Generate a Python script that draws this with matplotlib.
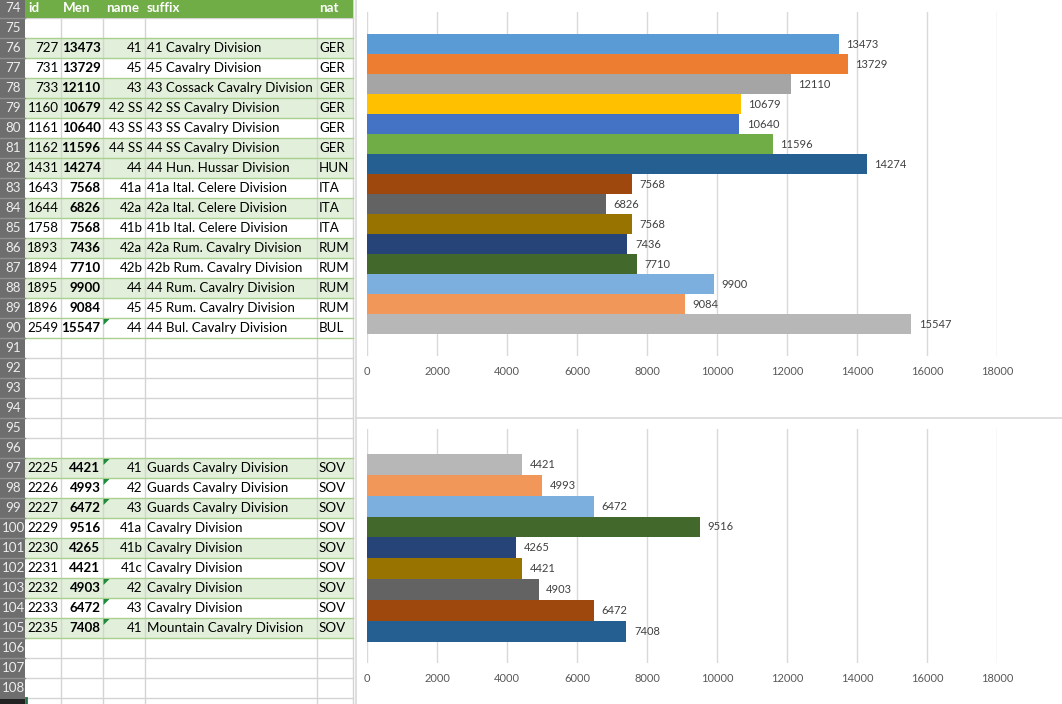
import matplotlib
matplotlib.use("Agg")
import matplotlib.pyplot as plt
from matplotlib.patches import Rectangle, Polygon

# ---------------- data ----------------
ids1 = [727, 731, 733, 1160, 1161, 1162, 1431, 1643, 1644, 1758, 1893, 1894, 1895, 1896, 2549]
men1 = [13473, 13729, 12110, 10679, 10640, 11596, 14274, 7568, 6826, 7568, 7436, 7710, 9900, 9084, 15547]
names1 = ["41", "45", "43", "42 SS", "43 SS", "44 SS", "44", "41a", "42a", "41b", "42a", "42b", "44", "45", "44"]
suffix1 = ["41 Cavalry Division", "45 Cavalry Division", "43 Cossack Cavalry Division",
           "42 SS Cavalry Division", "43 SS Cavalry Division", "44 SS Cavalry Division",
           "44 Hun. Hussar Division", "41a Ital. Celere Division", "42a Ital. Celere Division",
           "41b Ital. Celere Division", "42a Rum. Cavalry Division", "42b Rum. Cavalry Division",
           "44 Rum. Cavalry Division", "45 Rum. Cavalry Division", "44 Bul. Cavalry Division"]
nat1 = ["GER", "GER", "GER", "GER", "GER", "GER", "HUN", "ITA", "ITA", "ITA", "RUM", "RUM", "RUM", "RUM", "BUL"]

ids2 = [2225, 2226, 2227, 2229, 2230, 2231, 2232, 2233, 2235]
men2 = [4421, 4993, 6472, 9516, 4265, 4421, 4903, 6472, 7408]
names2 = ["41", "42", "43", "41a", "41b", "41c", "42", "43", "41"]
suffix2 = ["Guards Cavalry Division", "Guards Cavalry Division", "Guards Cavalry Division",
           "Cavalry Division", "Cavalry Division", "Cavalry Division", "Cavalry Division",
           "Cavalry Division", "Mountain Cavalry Division"]
nat2 = ["SOV"] * 9

headers = ["id", "Men", "name", "suffix", "nat"]
row_numbers = list(range(74, 109))
block1_start, block2_start = 76, 97
green_rows = [76, 78, 79, 81, 82, 84, 86, 88, 97, 99, 101, 103, 105]
flag_rows = [90, 97, 98, 99, 103, 104, 105]

colors1 = ["#5B9BD5", "#ED7D31", "#A5A5A5", "#FFC000", "#4472C4", "#70AD47", "#255E91",
           "#9E480E", "#636363", "#997300", "#264478", "#43682B", "#7CAFDD", "#F1975A", "#B7B7B7"]
colors2 = ["#B7B7B7", "#F1975A", "#7CAFDD", "#43682B", "#264478", "#997300", "#636363",
           "#9E480E", "#255E91"]
xticks = list(range(0, 18001, 2000))

# ---------------- figure ----------------
W, H = 1062, 704
fig = plt.figure(figsize=(W / 100, H / 100), dpi=100)
FAM = ["Lato", "DejaVu Sans"]
FS = 9.6

sheet = fig.add_axes([0, 0, 1, 1])
sheet.set_xlim(0, W)
sheet.set_ylim(H, 0)
sheet.axis("off")

col_edges = [0, 25, 61, 103, 145, 317, 353]
ROW_H = 20.0


def row_top(r):
    return -2 + (r - 74) * ROW_H


def row_mid(r):
    return row_top(r) + ROW_H / 2


# row backgrounds
for r in green_rows:
    sheet.add_patch(Rectangle((25, row_top(r)), 328, ROW_H, fc="#E2EFDA", ec="none", zorder=1))

# vertical gridlines
for x in col_edges[2:]:
    sheet.plot([x, x], [0, H], color="#D4D4D4", lw=1, zorder=2)

# horizontal gridlines
for r in row_numbers + [109]:
    y = row_top(r)
    in_block = (76 <= r <= 91) or (97 <= r <= 106)
    sheet.plot([25, 353], [y, y], color="#A9D08E" if in_block else "#D4D4D4", lw=1, zorder=3)

# header row
sheet.add_patch(Rectangle((25, -2), 328, ROW_H, fc="#70AD47", ec="none", zorder=4))
hdr_x = [28, 63, 106, 147, 319]
for hx, ht in zip(hdr_x, headers):
    sheet.text(hx, row_mid(74), ht, color="white", fontweight="bold", fontsize=FS,
               family=FAM, ha="left", va="center", zorder=5)

# row header column
sheet.add_patch(Rectangle((0, 0), 25, H, fc="#6E6E6E", ec="none", zorder=4))
for r in row_numbers:
    sheet.plot([0, 25], [row_top(r), row_top(r)], color="#8E8E8E", lw=1, zorder=5)
    sheet.text(13.5, row_mid(r), str(r), color="#EDEDED", fontsize=FS, family=FAM,
               ha="center", va="center", zorder=6)
sheet.add_patch(Rectangle((0, 699), 25, 5, fc="#222222", ec="none", zorder=6))
sheet.plot([25.5, 25.5], [698, 704], color="#217346", lw=2, zorder=7)


def draw_block(start, ids, men, names, suffixes, nats):
    for k in range(len(ids)):
        r = start + k
        y = row_mid(r)
        kw = dict(fontsize=FS, family=FAM, va="center", color="black", zorder=6)
        sheet.text(58.5, y, str(ids[k]), ha="right", **kw)
        sheet.text(100.5, y, str(men[k]), ha="right", fontweight="bold", **kw)
        sheet.text(142.5, y, names[k], ha="right", **kw)
        sheet.text(147, y, suffixes[k], ha="left", **kw)
        sheet.text(319, y, nats[k], ha="left", **kw)
        if r in flag_rows:
            t = row_top(r) + 1
            sheet.add_patch(Polygon([(103.5, t), (109.5, t), (103.5, t + 6)], closed=True,
                                    fc="#1E8C3A", ec="none", zorder=7))


draw_block(block1_start, ids1, men1, names1, suffix1, nat1)
draw_block(block2_start, ids2, men2, names2, suffix2, nat2)

# chart frame lines
sheet.plot([355.5, 355.5], [0, H], color="#D9D9D9", lw=1.2, zorder=2)
sheet.plot([355.5, W], [417.5, 417.5], color="#D9D9D9", lw=1.2, zorder=2)


# ---------------- charts ----------------
def px_axes(x0, y0, x1, y1):
    return fig.add_axes([x0 / W, 1 - y1 / H, (x1 - x0) / W, (y1 - y0) / H])


def bar_chart(ax, values, colors, top_gap_px, pitch_px, height_px):
    n = len(values)
    pos = list(range(n))
    ax.barh(pos, values, height=1.0, color=colors, lw=0, zorder=2)
    top = -0.5 - top_gap_px / pitch_px
    bottom = top + height_px / pitch_px
    ax.set_ylim(bottom, top)
    ax.set_xlim(0, 18000)
    ax.set_xticks(xticks)
    ax.set_xticklabels([str(t) for t in xticks], family=FAM, fontsize=8, color="#595959")
    ax.tick_params(axis="x", length=0, pad=7)
    ax.set_yticks([])
    ax.grid(axis="x", color="#D9D9D9", lw=1, zorder=0)
    for s in ax.spines.values():
        s.set_visible(False)
    ax.set_facecolor("none")
    for i, v in enumerate(values):
        ax.annotate(str(v), (v, i), xytext=(5.5, 0), textcoords="offset points",
                    ha="left", va="center", family=FAM, fontsize=8, color="#404040", zorder=3)


ax1 = px_axes(367, 12, 997, 356)
bar_chart(ax1, men1, colors1, 22, 20.0, 344)

ax2 = px_axes(367, 429, 997, 663)
bar_chart(ax2, men2, colors2, 25, 20.85, 234)

fig.savefig("out.png", dpi=100)
